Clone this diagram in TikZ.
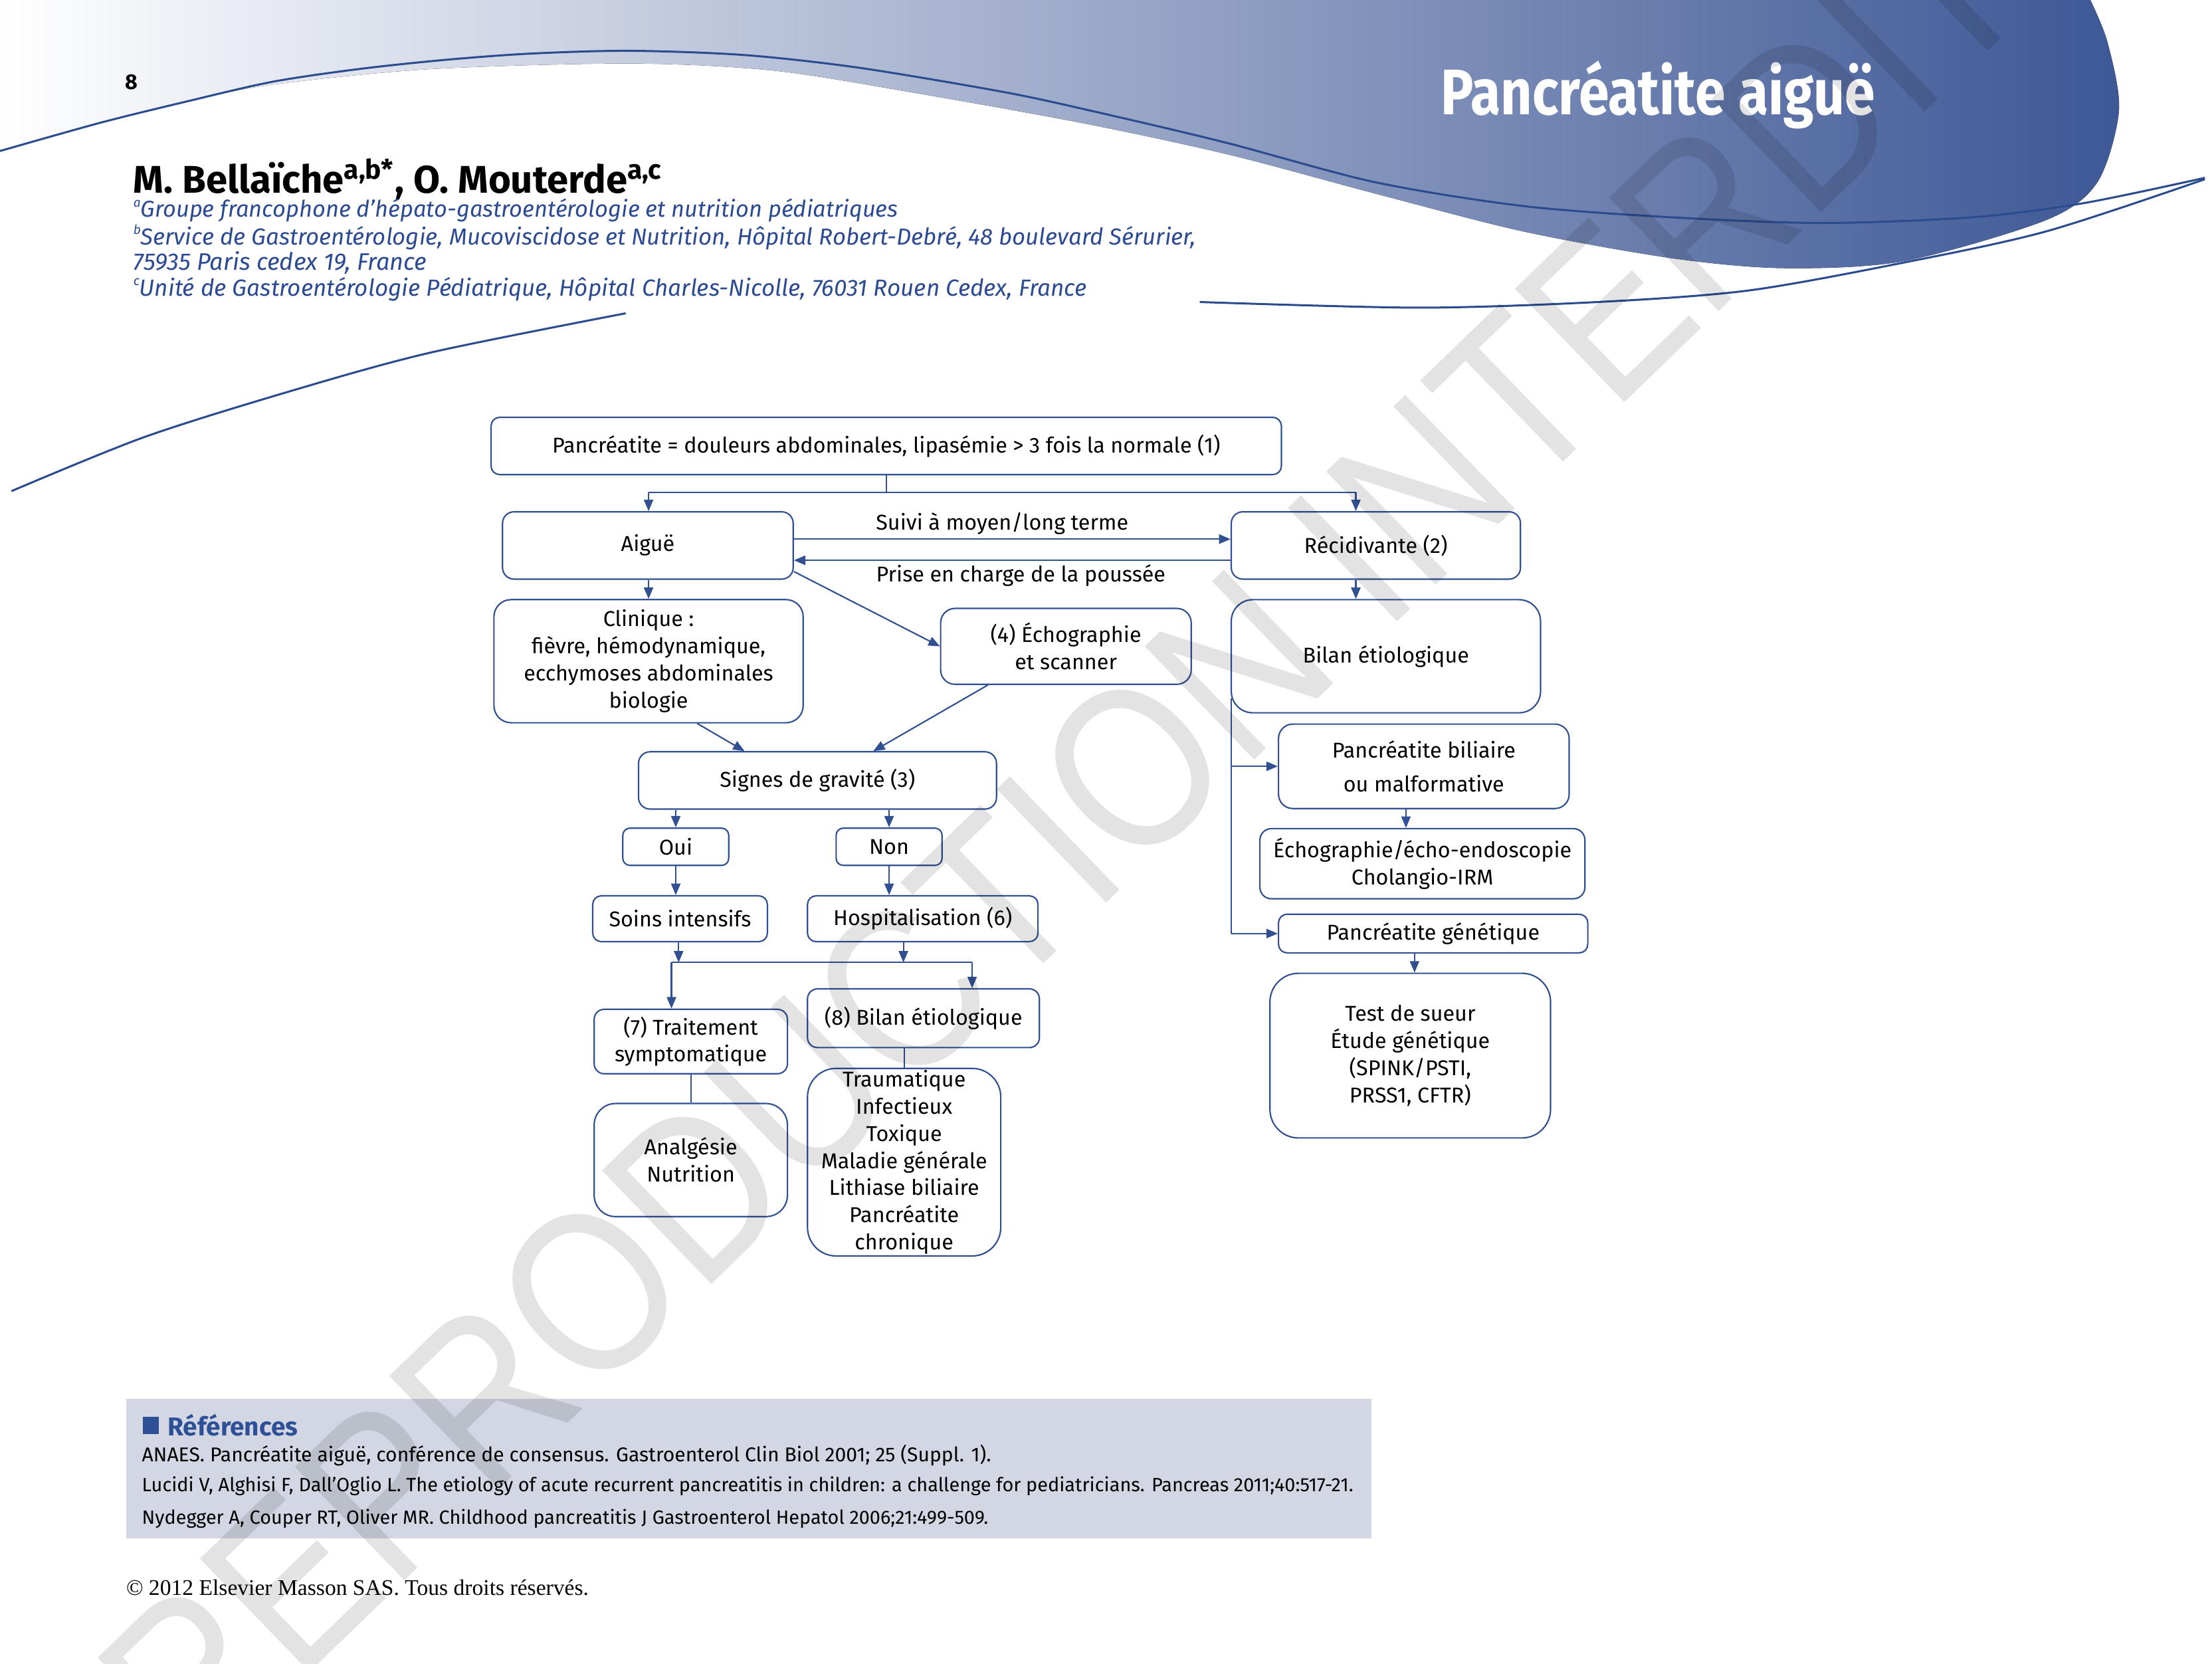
\documentclass[tikz,border=0pt]{standalone}
\usepackage{fontspec}
\setmainfont{Fira Sans}
\newfontfamily\crfont{Liberation Serif}
\newfontfamily\wmfont{Liberation Sans}
\usetikzlibrary{arrows.meta}
\definecolor{lineblue}{RGB}{43,75,143}
\definecolor{boxblue}{RGB}{48,80,145}
\definecolor{gradend}{RGB}{62,88,150}
\definecolor{affblue}{RGB}{44,74,146}
\definecolor{refbg}{RGB}{211,215,228}
\definecolor{refblue}{RGB}{46,80,150}
\newcommand\boxfont{\fontsize{15}{19}\selectfont}
\newcommand\affsup[1]{\raisebox{0.45em}{\fontsize{8}{8}\selectfont #1}}
\tikzset{
  bx/.style={draw=boxblue, line width=1pt, rounded corners=#1, fill=white, inner sep=0pt, align=center, font=\boxfont},
  bx/.default=8pt,
  ln/.style={draw=boxblue, line width=1pt},
  arr/.style={draw=boxblue, line width=1pt, -{Triangle[length=8pt,width=6.5pt]}},
  lbl/.style={inner sep=0pt, font=\boxfont},
  swoosh/.style={draw=lineblue, line width=1.4pt},
  aff/.style={anchor=west, inner sep=0pt, text=affblue, font=\itshape\fontsize{14.5}{14.5}\selectfont},
  refl/.style={anchor=west, inner sep=0pt, font=\fontsize{12}{12}\selectfont},
}
\begin{document}
\begin{tikzpicture}[x=1pt,y=-0.9856pt]
\useasboundingbox (0,0) rectangle (1545,1179);
\clip (0,0) rectangle (1545,1179);
\fill[white] (0,0) rectangle (1545,1179);

% header swoosh
\fill[left color=white, right color=gradend] (0,0) -- (0,107) -- plot[smooth] coordinates {(0,107) (70,87) (130,72) (190,60) (300,49) (440,45) (540,50) (640,66) (760,88) (860,110) (960,137) (1064,164) (1168,183) (1246,190) (1330,185) (1429,156) (1465,129) (1480,78) (1472,30) (1460,0)} -- cycle;
\draw[swoosh] plot[smooth] coordinates {(0,107) (70,87) (130,72) (190,58) (250,49) (310,42.5) (370,38) (440,36) (520,39) (600,48) (700,65) (760,78) (856,101) (960,129) (1064,146) (1168,154) (1272,158) (1377,154) (1455,144) (1540,126)};
\draw[swoosh] plot[smooth] coordinates {(838,214) (991,218) (1116,214) (1220,206) (1325,187) (1429,164) (1540,127)};
\draw[swoosh] plot[smooth] coordinates {(8,348) (100,310) (200,278) (300,250) (437,222)};

% header texts
\node[inner sep=0pt, font=\bfseries\fontsize{15}{15}\selectfont] (pg) at (92,58) {8};
\node[anchor=west, inner sep=0pt, text=white] (title) at (1006,67) {\scalebox{0.85}[1]{\fontsize{45}{45}\selectfont\bfseries Pancréatite aiguë}};
\node[anchor=west, inner sep=0pt] (auth) at (93,127) {\resizebox{370pt}{!}{\bfseries M. Bellaïche\textsuperscript{a,b*}, O. Mouterde\textsuperscript{a,c}}};
\node[aff] (af1) at (93,149) {\resizebox{534pt}{!}{\affsup{a}Groupe francophone d’hépato-gastroentérologie et nutrition pédiatriques}};
\node[aff] (af2) at (93,168) {\resizebox{742pt}{!}{\affsup{b}Service de Gastroentérologie, Mucoviscidose et Nutrition, Hôpital Robert-Debré, 48 boulevard Sérurier,}};
\node[aff] (af3) at (93,186) {\resizebox{205pt}{!}{75935 Paris cedex 19, France}};
\node[aff] (af4) at (93,205) {\resizebox{666pt}{!}{\affsup{c}Unité de Gastroentérologie Pédiatrique, Hôpital Charles-Nicolle, 76031 Rouen Cedex, France}};

% boxes
\node[bx=6pt, minimum width=552pt, minimum height=40pt] (top) at (619,316) {Pancréatite = douleurs abdominales, lipasémie > 3 fois la normale (1)};
\node[bx=8pt, minimum width=203pt, minimum height=47pt] (aigue) at (452.5,386.5) {Aiguë};
\node[bx=8pt, minimum width=202pt, minimum height=47pt] (recid) at (961,386.5) {Récidivante (2)};
\node[bx=12pt, minimum width=216pt, minimum height=86pt] (clin) at (453,468.5) {Clinique :\\fièvre, hémodynamique,\\ecchymoses abdominales\\biologie};
\node[bx=10pt, minimum width=175pt, minimum height=53pt] (echo) at (744.5,458) {(4) Échographie\\et scanner};
\node[bx=15pt, minimum width=216pt, minimum height=79pt] (bilanR) at (968,465) {Bilan étiologique};
\node[bx=8pt, minimum width=250pt, minimum height=40pt] (signes) at (571,553) {Signes de gravité (3)};
\node[bx=5pt, minimum width=74pt, minimum height=26pt] (oui) at (472,600) {Oui};
\node[bx=5pt, minimum width=74pt, minimum height=26pt] (non) at (621,600) {Non};
\node[bx=6pt, minimum width=122pt, minimum height=32pt] (soins) at (475,651) {Soins intensifs};
\node[bx=6pt, minimum width=161pt, minimum height=32pt] (hosp) at (644.5,651) {Hospitalisation (6)};
\node[bx=7pt, minimum width=135pt, minimum height=45pt] (trait) at (482.5,738) {(7) Traitement\\symptomatique};
\node[bx=7pt, minimum width=162pt, minimum height=41pt] (bilan8) at (645,721.5) {(8) Bilan étiologique};
\node[bx=15pt, minimum width=135pt, minimum height=79pt] (anal) at (482.5,822) {Analgésie\\Nutrition};
\node[bx=20pt, minimum width=135pt, minimum height=131pt] (traum) at (631.5,823.5) {Traumatique\\Infectieux\\Toxique\\Maladie générale\\Lithiase biliaire\\Pancréatite\\chronique};
\node[bx=10pt, minimum width=203pt, minimum height=59pt] (biliaire) at (994.5,543) {Pancréatite biliaire\\[5pt]ou malformative};
\node[bx=8pt, minimum width=227pt, minimum height=49pt] (echoR) at (993.5,612) {Échographie/écho-endoscopie\\Cholangio-IRM};
\node[bx=6pt, minimum width=216pt, minimum height=27pt] (genet) at (1001,661.5) {Pancréatite génétique};
\node[bx=20pt, minimum width=196pt, minimum height=115pt] (test) at (985,748) {Test de sueur\\Étude génétique\\(SPINK/PSTI,\\PRSS1, CFTR)};

% connectors
\coordinate (sL) at (453,349);
\coordinate (sR) at (947,349);
\draw[ln] (top.south) -- (top.south |- sL);
\draw[ln] (sL) -- (sR);
\draw[arr] (sL) -- (sL |- aigue.north);
\draw[arr] (sR) -- (sR |- recid.north);
\draw[arr] (aigue.east |- 0,382) -- (recid.west |- 0,382);
\draw[arr] (recid.west |- 0,397) -- (aigue.east |- 0,397);
\node[lbl] (l1) at (700,371) {Suivi à moyen/long terme};
\node[lbl] (l2) at (713,408) {Prise en charge de la poussée};
\draw[arr] (aigue.south -| 453,0) -- (clin.north -| 453,0);
\draw[arr] (aigue.east |- 0,405) -- (echo.west);
\draw[arr] (clin.south -| 487,0) -- (signes.north -| 520,0);
\draw[arr] (echo.south -| 690,0) -- (signes.north -| 610,0);
\draw[arr] (signes.south -| oui.north) -- (oui.north);
\draw[arr] (signes.south -| non.north) -- (non.north);
\draw[arr] (oui.south) -- (oui.south |- soins.north);
\draw[arr] (non.south) -- (non.south |- hosp.north);
\coordinate (jL) at (469,682);
\coordinate (jR) at (679,682);
\coordinate (jS) at (474,682);
\coordinate (jH) at (631,682);
\draw[ln] (jL) -- (jR);
\draw[arr] (soins.south -| jS) -- (jS);
\draw[arr] (hosp.south -| jH) -- (jH);
\draw[arr] (jL) -- (jL |- trait.north);
\draw[arr] (jR) -- (jR |- bilan8.north);
\draw[ln] (trait.south) -- (anal.north);
\draw[ln] (bilan8.south -| traum.north) -- (traum.north);
\draw[arr] (recid.south -| sR) -- (sR |- bilanR.north);
\coordinate (spT) at (860,495);
\coordinate (spB) at (860,661.5);
\draw[ln] (spT) -- (spB);
\draw[arr] (spT |- biliaire.west) -- (biliaire.west);
\draw[arr] (spB) -- (genet.west);
\draw[arr] (biliaire.south -| 982,0) -- (echoR.north -| 982,0);
\draw[arr] (genet.south -| 988,0) -- (test.north -| 988,0);

% references
\fill[refbg] (88,991) rectangle (958,1090);
\fill[refblue] (100,1004) rectangle (111,1016);
\node[anchor=west, inner sep=0pt, text=refblue, font=\bfseries\fontsize{18}{18}\selectfont] (rh) at (117,1010) {Références};
\node[refl] (r1) at (99,1031) {\resizebox{593pt}{!}{ANAES. Pancréatite aiguë, conférence de consensus. Gastroenterol Clin Biol 2001; 25 (Suppl. 1).}};
\node[refl] (r2) at (99,1053) {\resizebox{846pt}{!}{Lucidi V, Alghisi F, Dall’Oglio L. The etiology of acute recurrent pancreatitis in children: a challenge for pediatricians. Pancreas 2011;40:517-21.}};
\node[refl] (r3) at (99,1076) {\resizebox{591pt}{!}{Nydegger A, Couper RT, Oliver MR. Childhood pancreatitis J Gastroenterol Hepatol 2006;21:499-509.}};
\node[anchor=west, inner sep=0pt] (copy) at (88,1125) {\resizebox{323pt}{!}{\crfont\fontsize{14}{14}\selectfont © 2012 Elsevier Masson SAS. Tous droits réservés.}};

% watermark
\node[rotate=44, inner sep=0pt, text=black, text opacity=0.11] (wm) at (775,560) {\scalebox{0.86}[1]{\wmfont\fontsize{160}{160}\selectfont REPRODUCTION INTERDITE}};
\end{tikzpicture}
\end{document}
